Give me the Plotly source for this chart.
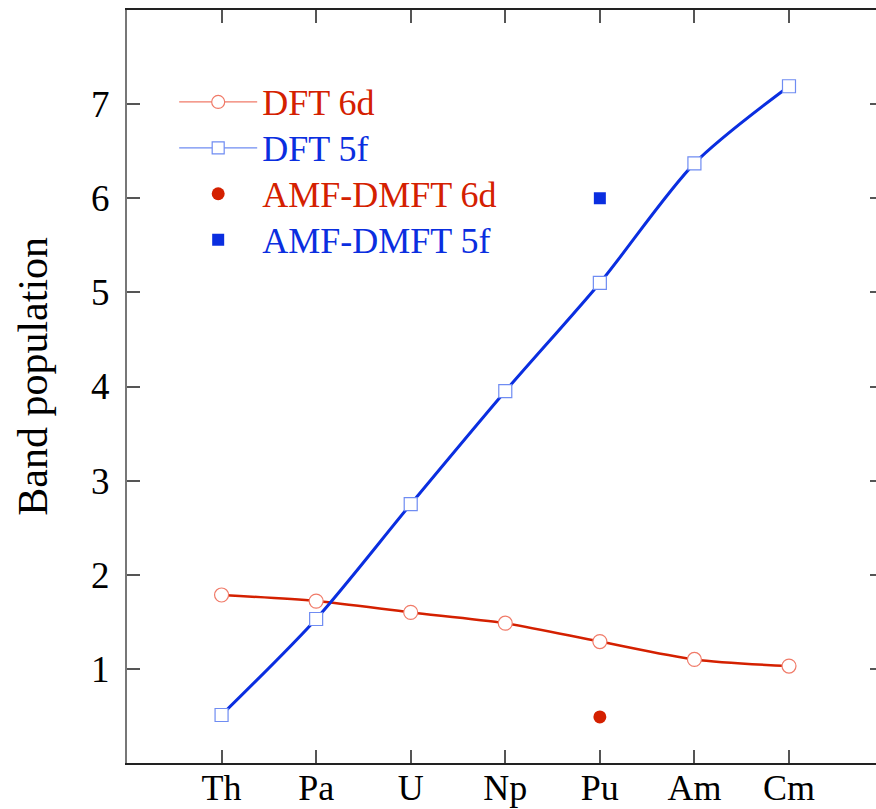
import plotly.graph_objects as go

# Actinide series and band populations
elements = ["Th", "Pa", "U", "Np", "Pu", "Am", "Cm"]
dft_6d = [1.785, 1.72, 1.60, 1.485, 1.29, 1.10, 1.03]
dft_5f = [0.51, 1.53, 2.75, 3.95, 5.10, 6.37, 7.19]
amf_elements = ["Pu"]
amf_6d = [0.49]
amf_5f = [6.00]
y_ticks = [1, 2, 3, 4, 5, 6, 7]

RED = "#d42000"
RED_LIGHT = "#f07a68"
BLUE = "#0a2ee0"
BLUE_LIGHT = "#6f8cf2"
FONT = "Liberation Serif"


def colored(text, color):
    return f"<span style='color:{color};font-size:36px'>{text}</span>"


fig = go.Figure()

# Smooth thick curves (not in legend)
fig.add_trace(go.Scatter(x=elements, y=dft_6d, mode="lines",
                         line=dict(color=RED, width=2.5, shape="spline", smoothing=0.8),
                         showlegend=False, hoverinfo="skip"))
fig.add_trace(go.Scatter(x=elements, y=dft_5f, mode="lines",
                         line=dict(color=BLUE, width=3, shape="spline", smoothing=0.8),
                         showlegend=False, hoverinfo="skip"))

# Open markers on top of the curves
fig.add_trace(go.Scatter(x=elements, y=dft_6d, mode="markers",
                         marker=dict(symbol="circle", size=14, color="white",
                                     line=dict(color=RED_LIGHT, width=1.2)),
                         showlegend=False))
fig.add_trace(go.Scatter(x=elements, y=dft_5f, mode="markers",
                         marker=dict(symbol="square", size=13, color="white",
                                     line=dict(color=BLUE_LIGHT, width=1.2)),
                         showlegend=False))

# AMF-DMFT points
fig.add_trace(go.Scatter(x=amf_elements, y=amf_6d, mode="markers",
                         marker=dict(symbol="circle", size=13, color=RED),
                         showlegend=False))
fig.add_trace(go.Scatter(x=amf_elements, y=amf_5f, mode="markers",
                         marker=dict(symbol="square", size=12, color=BLUE),
                         showlegend=False))

# Empty trace so the mirrored right-hand tick axis is drawn
fig.add_trace(go.Scatter(x=[None], y=[None], yaxis="y2", mode="markers",
                         showlegend=False, hoverinfo="skip"))

# Legend entries (thin line + open symbol style)
fig.add_trace(go.Scatter(x=[None], y=[None], mode="lines+markers",
                         name=colored("DFT 6d", RED),
                         line=dict(color=RED_LIGHT, width=1.2),
                         marker=dict(symbol="circle", size=13, color="white",
                                     line=dict(color=RED_LIGHT, width=1.2))))
fig.add_trace(go.Scatter(x=[None], y=[None], mode="lines+markers",
                         name=colored("DFT 5f", BLUE),
                         line=dict(color=BLUE_LIGHT, width=1.2),
                         marker=dict(symbol="square", size=12, color="white",
                                     line=dict(color=BLUE_LIGHT, width=1.2))))
fig.add_trace(go.Scatter(x=[None], y=[None], mode="markers",
                         name=colored("AMF-DMFT 6d", RED),
                         marker=dict(symbol="circle", size=13, color=RED)))
fig.add_trace(go.Scatter(x=[None], y=[None], mode="markers",
                         name=colored("AMF-DMFT 5f", BLUE),
                         marker=dict(symbol="square", size=12, color=BLUE)))

fig.update_layout(
    width=876, height=809,
    margin=dict(l=127, r=0, t=10, b=46),
    plot_bgcolor="white", paper_bgcolor="white",
    font=dict(family=FONT, size=34, color="black"),
    showlegend=True,
    legend=dict(x=0.063, y=0.915, xanchor="left", yanchor="top",
                bgcolor="rgba(0,0,0,0)", borderwidth=0, itemwidth=78,
                font=dict(family=FONT, size=33), tracegroupgap=0),
    xaxis=dict(type="category", categoryorder="array", categoryarray=elements,
               range=[-1, 6.92], showgrid=False, zeroline=False, automargin=False,
               showline=True, linecolor="#222", linewidth=1.5, mirror="ticks",
               ticks="inside", ticklen=13, tickwidth=1.5, tickcolor="#555",
               ticklabelstandoff=-8,
               tickfont=dict(family=FONT, size=36)),
    yaxis=dict(range=[0, 8], tickvals=y_ticks, showgrid=False, zeroline=False,
               automargin=False,
               showline=True, linecolor="#777", linewidth=2, mirror=False,
               ticks="inside", ticklen=13, tickwidth=1.5, tickcolor="#555",
               ticklabelstandoff=8,
               tickfont=dict(family=FONT, size=37)),
    yaxis2=dict(overlaying="y", side="right", range=[0, 8], tickvals=y_ticks,
                showgrid=False, zeroline=False, showline=False,
                showticklabels=False, ticks="inside", ticklen=6,
                tickwidth=1.5, tickcolor="#555"),
    annotations=[dict(text="Band population", textangle=-90,
                      xref="paper", yref="paper", x=-0.1255, y=0.513,
                      xanchor="center", yanchor="middle", showarrow=False,
                      font=dict(family=FONT, size=42, color="black"))],
)

fig.write_html("out.html")
